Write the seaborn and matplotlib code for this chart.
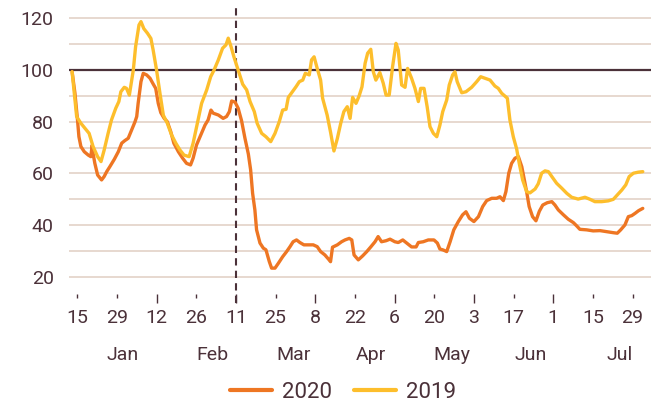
import numpy as np
import pandas as pd
import matplotlib
matplotlib.use("Agg")
import matplotlib.pyplot as plt
import matplotlib.transforms as mtransforms
import seaborn as sns

# --- DATA ---
# x = days since 15 Jan, y = index level
DAYS_2019 = [-1.8, -0.2, 1.3, 2.7, 4.2, 5.6, 7.2, 8.4, 9.5, 10.9, 12.1, 13.6, 14.7, 15.4,
             16.6, 17.4, 18.4, 19.8, 20.6, 21.8, 22.5, 23.5, 24.8, 26.0, 26.8, 28.0, 29.2,
             30.4, 31.8, 33.3, 34.8, 36.3, 37.7, 39.5, 40.9, 42.4, 43.9, 45.7, 47.1, 48.3,
             49.8, 51.3, 52.5, 53.3, 54.3, 55.3, 56.8, 58.4, 59.8, 61.0, 62.5, 63.5, 65.1,
             66.6, 68.3, 69.8, 71.3, 72.5, 73.7, 74.5, 75.7, 77.2, 78.4, 79.6, 80.5, 81.9,
             82.7, 83.6, 84.7, 85.9, 86.6, 88.2, 89.4, 90.6, 91.8, 93.0, 94.1, 95.3, 96.3,
             97.2, 98.4, 99.5, 100.5, 101.6, 102.5, 103.6, 104.5, 105.4, 106.8, 108.0,
             109.0, 110.1, 111.3, 112.5, 113.3, 114.5, 115.7, 116.6, 118.0, 119.2, 120.4,
             121.2, 122.4, 123.5, 124.5, 125.7, 126.9, 128.0, 129.0, 130.4, 131.3, 132.5,
             133.3, 134.1, 135.7, 137.2, 139.2, 141.0, 142.4, 143.9, 145.7, 147.4, 148.6,
             149.8, 151.8, 152.7, 153.9, 155.1, 156.0, 157.2, 158.6, 159.8, 161.6, 162.7,
             163.9, 165.1, 166.3, 167.5, 169.2, 171.0, 172.8, 174.5, 176.8, 179.2, 181.0,
             182.7, 185.1, 187.4, 189.2, 190.6, 192.2, 193.6, 194.8, 196.3, 198.0, 199.6]
VALUES_2019 = [99.3, 82.0, 79.4, 77.5, 75.5, 70.4, 66.5, 64.6, 69.0, 75.5, 80.7, 85.2, 87.8, 91.6,
               93.3, 92.9, 90.3, 100.0, 109.0, 117.4, 118.7, 116.0, 114.2, 112.2, 107.7, 100.0, 91.0,
               82.5, 79.4, 74.9, 71.7, 69.0, 67.1, 66.5, 71.7, 79.4, 87.1, 92.3, 97.4, 100.0,
               103.9, 108.4, 109.7, 112.3, 109.0, 105.1, 100.0, 94.5, 92.3, 87.8, 83.9, 79.4, 75.5,
               74.2, 72.3, 75.5, 80.0, 84.5, 84.8, 89.4, 91.2, 93.5, 95.5, 96.1, 98.7, 98.1,
               103.9, 105.1, 100.6, 96.1, 89.1, 82.6, 76.0, 68.7, 73.5, 79.4, 83.9, 85.8, 81.3,
               89.4, 87.1, 90.0, 93.5, 102.6, 106.5, 108.0, 99.3, 96.1, 99.0, 94.9,
               90.3, 90.3, 101.3, 110.3, 107.7, 94.2, 93.3, 100.6, 96.8, 92.9, 87.8,
               92.9, 92.9, 85.8, 78.1, 75.5, 74.2, 78.7, 83.9, 88.4, 94.2, 98.1,
               99.3, 95.5, 91.2, 91.6, 93.3, 95.5, 97.4, 96.8, 96.1, 93.8, 92.9,
               91.0, 89.1, 80.7, 74.2, 69.4, 63.9, 57.5, 53.0, 52.5, 54.0, 56.0,
               60.1, 61.0, 60.7, 58.8, 56.2, 54.3, 52.3, 50.8, 50.1, 50.8, 50.0,
               49.1, 49.1, 49.4, 50.0, 51.7, 53.6, 55.6, 58.8, 60.1, 60.5, 60.7]

DAYS_2020 = [-1.8, -0.8, 0.1, 0.6, 1.3, 2.5, 3.9, 4.8, 5.3, 5.6, 6.2, 7.2, 8.6, 9.5, 10.4,
             11.5, 13.1, 14.5, 15.7, 16.8, 18.0, 19.2, 20.4, 21.0, 21.5, 22.5, 23.3, 24.5,
             25.7, 26.8, 27.7, 28.6, 29.5, 30.7, 31.8, 33.0, 34.1, 35.7, 37.2, 38.6, 40.0,
             40.9, 42.1, 43.6, 45.1, 46.2, 47.2, 48.0, 49.8, 51.5, 52.7, 53.7, 54.5, 55.7,
             56.8, 58.0, 59.2, 60.4, 61.2, 61.9, 62.7, 63.3, 64.5, 65.7, 66.6, 67.8, 68.6,
             69.8, 71.0, 72.5, 73.9, 75.1, 76.2, 77.4, 78.6, 80.0, 81.5, 83.3, 84.7, 85.9,
             87.4, 88.9, 89.4, 90.1, 91.8, 93.3, 94.5, 96.0, 96.9, 97.7, 99.2, 100.7, 102.2,
             103.6, 105.1, 106.2, 107.4, 109.0, 110.4, 112.1, 113.3, 114.9, 116.3, 118.0,
             119.6, 120.4, 122.1, 123.9, 125.9, 127.1, 128.0, 129.2, 130.4, 131.6, 132.9,
             134.5, 136.0, 137.2, 138.4, 140.0, 141.6, 143.1, 144.5, 146.3, 148.0, 149.2,
             150.4, 151.3, 152.3, 153.3, 154.5, 155.7, 156.9, 157.8, 158.6, 159.5, 160.7,
             161.9, 163.1, 164.3, 165.9, 167.5, 168.6, 169.8, 171.6, 173.3, 175.1, 176.3,
             177.4, 179.8, 182.1, 184.5, 186.8, 189.2, 190.6, 191.8, 193.3, 194.5, 195.7,
             196.9, 198.1, 199.6]
VALUES_2020 = [99.3, 91.0, 80.7, 74.2, 70.4, 68.4, 67.1, 66.5, 71.0, 67.8, 64.0, 59.4, 57.5, 58.8, 60.7,
               62.6, 65.5, 68.4, 71.7, 72.7, 73.6, 76.8, 80.0, 82.0, 87.1, 95.5, 98.7, 98.1,
               96.8, 94.6, 92.9, 87.1, 83.5, 81.3, 80.0, 76.2, 71.7, 68.4, 65.9, 63.9, 63.3,
               65.9, 71.0, 74.9, 78.7, 80.7, 84.5, 83.3, 82.6, 81.3, 82.0, 83.9, 88.0, 87.6,
               85.2, 80.4, 73.6, 67.5, 61.4, 52.3, 45.9, 38.2, 33.1, 31.1, 30.5, 25.9, 23.4,
               23.4, 25.3, 27.8, 29.8, 31.7, 33.6, 34.3, 33.3, 32.4, 32.4, 32.4, 31.7, 29.8,
               28.5, 26.6, 25.9, 31.5, 32.4, 33.6, 34.3, 34.9, 34.3, 28.5, 26.6, 28.1, 29.8,
               31.6, 33.6, 35.6, 33.6, 34.0, 34.6, 33.6, 33.3, 34.3, 33.1, 31.6,
               31.6, 33.3, 33.6, 34.3, 34.3, 33.1, 30.8, 30.4, 29.8, 33.6, 38.2,
               41.4, 44.0, 45.2, 42.7, 41.4, 43.3, 47.2, 49.5, 50.4, 50.4, 51.0,
               49.5, 53.0, 60.1, 63.9, 65.9, 66.5, 62.6, 57.5, 53.0, 47.2, 43.3,
               41.7, 45.4, 47.8, 48.7, 49.1, 47.8, 45.9, 44.0, 42.3, 41.0, 39.7,
               38.4, 38.2, 37.8, 37.9, 37.5, 37.1, 36.9, 38.2, 40.1, 43.3, 43.7,
               44.6, 45.6, 46.5]

TICK_DATES = pd.date_range("2020-01-15", periods=15, freq="14D")
MONTHS = ["Jan", "Feb", "Mar", "Apr", "May", "Jun", "Jul"]
MONTH_POS = [16.2, 47.7, 76.3, 103.6, 132.3, 160.1, 191.6]  # label centres, days since 15 Jan
LOCKDOWN_DAY = 56  # 11 Mar
BASELINE = 100

COL_2020 = "#EE7623"
COL_2019 = "#FDBE2C"
TEXT_COL = "#4B3139"
GRID_COL = "#E3D2C7"

df = pd.concat([
    pd.DataFrame({"day": DAYS_2020, "value": VALUES_2020, "year": "2020"}),
    pd.DataFrame({"day": DAYS_2019, "value": VALUES_2019, "year": "2019"}),
])

sns.set_style("white")
plt.rcParams["font.family"] = ["Roboto", "DejaVu Sans"]

fig = plt.figure(figsize=(6.51, 4.08), dpi=100)
ax = fig.add_axes([69 / 651, 1 - 294 / 408, 1 - 69 / 651, 291 / 408])

# gridlines every 10
for v in range(20, 121, 10):
    ax.axhline(v, color=GRID_COL, lw=1.2, zorder=0)
ax.axhline(BASELINE, color=TEXT_COL, lw=1.6, zorder=1)

sns.lineplot(data=df, x="day", y="value", hue="year", palette={"2020": COL_2020, "2019": COL_2019},
             estimator=None, sort=False, lw=2.4, ax=ax, zorder=3)

ax.axvline(LOCKDOWN_DAY, ymin=-0.031, ymax=1, color=TEXT_COL, lw=1.5, ls=(0, (3.5, 2.5)),
           clip_on=False, zorder=2)

ax.set_xlim(-2.9, 202.5)
ax.set_ylim(13.4, 125.9)
for s in ax.spines.values():
    s.set_visible(False)

ax.set_yticks(range(20, 121, 20))
ax.tick_params(axis="y", left=False, length=0, pad=11, labelsize=14, labelcolor=TEXT_COL)

tick_days = [(d - TICK_DATES[0]).days for d in TICK_DATES]
ax.set_xticks(tick_days)
ax.set_xticklabels([str(d.day) for d in TICK_DATES])
ax.tick_params(axis="x", bottom=True, length=3.0, width=1.0, color=TEXT_COL, pad=7.5, labelsize=14,
               labelcolor=TEXT_COL, direction="out")
for i, t in enumerate(ax.xaxis.get_major_ticks()):
    if i % 2 == 0 and 0 < i < 14:
        t.tick1line.set_markersize(6.5)

trans = mtransforms.blended_transform_factory(ax.transData, ax.transAxes)
for m, p in zip(MONTHS, MONTH_POS):
    ax.text(p, -0.21, m, transform=trans, ha="center", va="center", fontsize=14, color=TEXT_COL)

ax.set_xlabel("")
ax.set_ylabel("")
ax.legend_.remove()
handles, labels = ax.get_legend_handles_labels()
leg = fig.legend(handles, labels, loc="center", bbox_to_anchor=(343 / 651, 1 - 392 / 408),
                 ncol=2, frameon=False, fontsize=16, handlelength=1.9, handletextpad=0.45,
                 columnspacing=1.0, labelcolor=TEXT_COL)
for line in leg.get_lines():
    line.set_linewidth(3)

fig.savefig("out.png", dpi=100)
